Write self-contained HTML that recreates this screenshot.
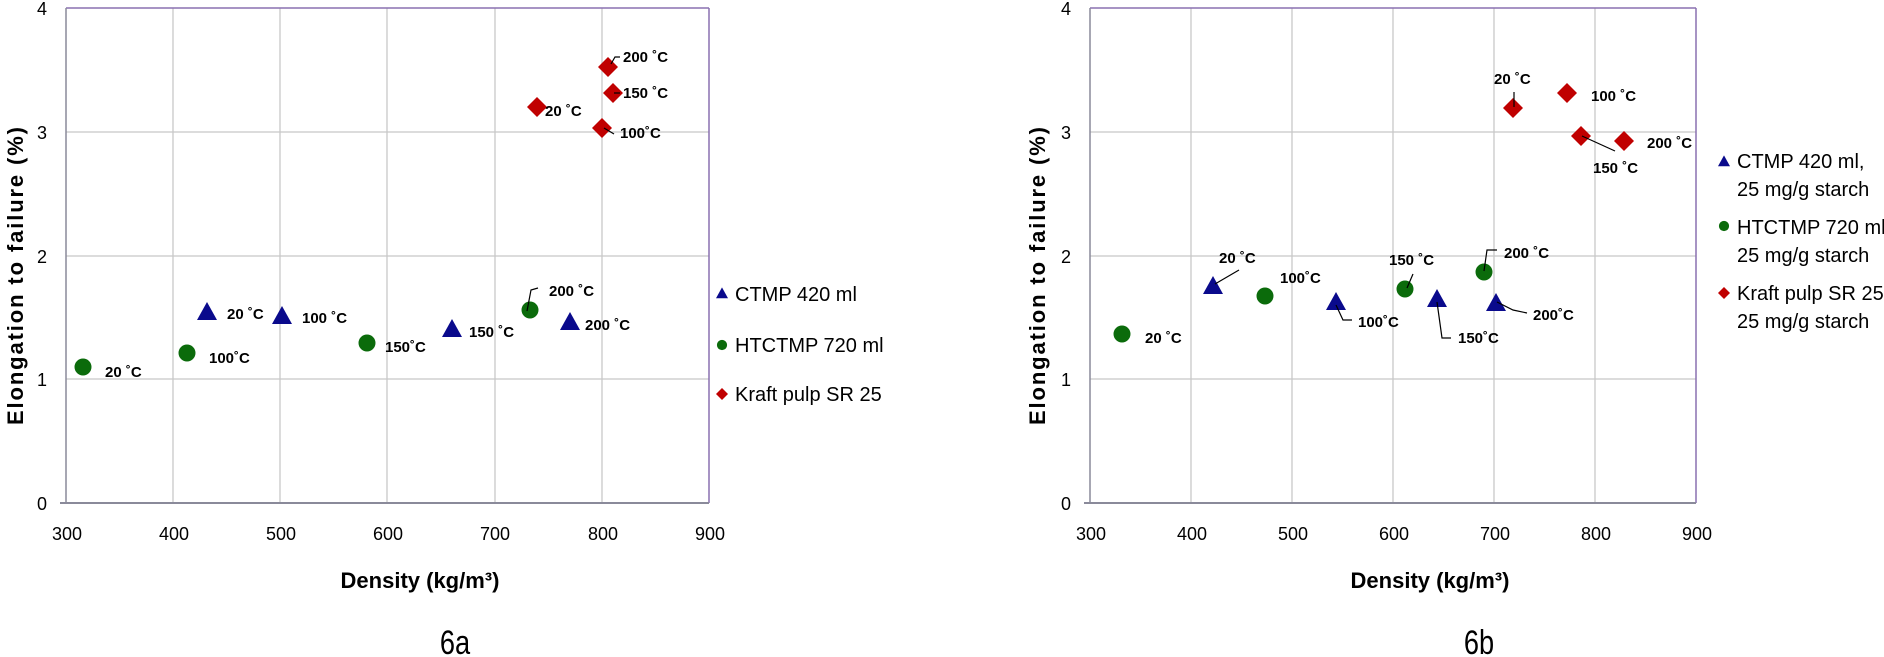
<!DOCTYPE html>
<html><head><meta charset="utf-8"><style>
html,body{margin:0;padding:0;background:#fff;}
svg{display:block;}
text{font-family:"Liberation Sans",sans-serif;}
.t{font-size:18px;fill:#000;}
.l{font-size:15px;font-weight:bold;fill:#000;}
.lg{font-size:20px;fill:#000;}
.ti{font-size:22px;font-weight:bold;fill:#000;}
</style></head><body>
<svg width="1884" height="657" viewBox="0 0 1884 657" xmlns="http://www.w3.org/2000/svg">
<defs>
<path id="tri" d="M0,-11 L10,7 L-10,7Z" fill="#0a0a8c"/>
<path id="dia" d="M0,-10 L10,0 L0,10 L-10,0Z" fill="#c00000"/>
<circle id="cir" r="8.5" fill="#0b6b0b"/>
</defs>
<!-- LEFT CHART -->
<g stroke="#c8c8c8" stroke-width="1.3">
<line x1="173" y1="8" x2="173" y2="503"/><line x1="280" y1="8" x2="280" y2="503"/><line x1="387" y1="8" x2="387" y2="503"/><line x1="495" y1="8" x2="495" y2="503"/><line x1="602" y1="8" x2="602" y2="503"/>
<line x1="66" y1="132" x2="709" y2="132"/><line x1="66" y1="256" x2="709" y2="256"/><line x1="66" y1="379" x2="709" y2="379"/>
</g>
<line x1="66" y1="8" x2="709" y2="8" stroke="#8a70b0" stroke-width="1.5"/>
<line x1="709" y1="8" x2="709" y2="503" stroke="#8a70b0" stroke-width="1.5"/>
<line x1="66" y1="8" x2="66" y2="503" stroke="#8a8a9a" stroke-width="1.5"/>
<line x1="60" y1="503" x2="709" y2="503" stroke="#8a8a9a" stroke-width="2"/>
<g class="t" text-anchor="end"><text x="47" y="15">4</text><text x="47" y="139">3</text><text x="47" y="263">2</text><text x="47" y="386">1</text><text x="47" y="510">0</text></g>
<g class="t" text-anchor="middle"><text x="67" y="540">300</text><text x="174" y="540">400</text><text x="281" y="540">500</text><text x="388" y="540">600</text><text x="495" y="540">700</text><text x="603" y="540">800</text><text x="710" y="540">900</text></g>
<text class="ti" x="420" y="588" text-anchor="middle">Density (kg/m³)</text>
<text class="ti" transform="translate(23,276) rotate(-90)" text-anchor="middle" textLength="298">Elongation  to failure (%)</text>
<text x="455" y="654" text-anchor="middle" font-size="34" transform="translate(455,0) scale(0.8,1) translate(-455,0)">6a</text>
<use href="#cir" x="83" y="367"/><use href="#cir" x="187" y="353"/><use href="#cir" x="367" y="343"/><use href="#cir" x="530" y="310"/>
<use href="#tri" x="207" y="313"/><use href="#tri" x="282" y="317"/><use href="#tri" x="452" y="330"/><use href="#tri" x="570" y="323"/>
<use href="#dia" x="537" y="107"/><use href="#dia" x="608" y="67"/><use href="#dia" x="613" y="93"/><use href="#dia" x="602" y="128"/>
<g stroke="#000" stroke-width="1.2" fill="none">
<polyline points="527,311 531,290 538,288"/><polyline points="611,64 615,57 620,57"/><polyline points="614,93 620,93"/><polyline points="604,128 614,134"/>
</g>
<g class="l">
<text x="105" y="377">20 ˚C</text><text x="209" y="363">100˚C</text><text x="385" y="352">150˚C</text><text x="549" y="296">200 ˚C</text>
<text x="227" y="319">20 ˚C</text><text x="302" y="323">100 ˚C</text><text x="469" y="337">150 ˚C</text><text x="585" y="330">200 ˚C</text>
<text x="545" y="116">20 ˚C</text><text x="623" y="62">200 ˚C</text><text x="623" y="98">150 ˚C</text><text x="620" y="138">100˚C</text>
</g>
<g transform="translate(722,294) scale(0.6)"><use href="#tri"/></g>
<g transform="translate(722,345) scale(0.6)"><use href="#cir"/></g>
<g transform="translate(722,394) scale(0.6)"><use href="#dia"/></g>
<g class="lg"><text x="735" y="301">CTMP 420 ml</text><text x="735" y="352">HTCTMP 720 ml</text><text x="735" y="401">Kraft pulp SR 25</text></g>

<!-- RIGHT CHART -->
<g stroke="#c8c8c8" stroke-width="1.3">
<line x1="1191" y1="8" x2="1191" y2="503"/><line x1="1292" y1="8" x2="1292" y2="503"/><line x1="1393" y1="8" x2="1393" y2="503"/><line x1="1494" y1="8" x2="1494" y2="503"/><line x1="1595" y1="8" x2="1595" y2="503"/>
<line x1="1090" y1="132" x2="1696" y2="132"/><line x1="1090" y1="256" x2="1696" y2="256"/><line x1="1090" y1="379" x2="1696" y2="379"/>
</g>
<line x1="1090" y1="8" x2="1696" y2="8" stroke="#8a70b0" stroke-width="1.5"/>
<line x1="1696" y1="8" x2="1696" y2="503" stroke="#8a70b0" stroke-width="1.5"/>
<line x1="1090" y1="8" x2="1090" y2="503" stroke="#8a8a9a" stroke-width="1.5"/>
<line x1="1084" y1="503" x2="1696" y2="503" stroke="#8a8a9a" stroke-width="2"/>
<g class="t" text-anchor="end"><text x="1071" y="15">4</text><text x="1071" y="139">3</text><text x="1071" y="263">2</text><text x="1071" y="386">1</text><text x="1071" y="510">0</text></g>
<g class="t" text-anchor="middle"><text x="1091" y="540">300</text><text x="1192" y="540">400</text><text x="1293" y="540">500</text><text x="1394" y="540">600</text><text x="1495" y="540">700</text><text x="1596" y="540">800</text><text x="1697" y="540">900</text></g>
<text class="ti" x="1430" y="588" text-anchor="middle">Density (kg/m³)</text>
<text class="ti" transform="translate(1045,276) rotate(-90)" text-anchor="middle" textLength="298">Elongation  to failure (%)</text>
<text x="1479" y="654" text-anchor="middle" font-size="34" transform="translate(1479,0) scale(0.8,1) translate(-1479,0)">6b</text>
<use href="#cir" x="1122" y="334"/><use href="#cir" x="1265" y="296"/><use href="#cir" x="1405" y="289"/><use href="#cir" x="1484" y="272"/>
<use href="#tri" x="1213" y="287"/><use href="#tri" x="1336" y="303"/><use href="#tri" x="1437" y="300"/><use href="#tri" x="1496" y="304"/>
<use href="#dia" x="1513" y="108"/><use href="#dia" x="1567" y="93"/><use href="#dia" x="1581" y="136"/><use href="#dia" x="1624" y="141"/>
<g stroke="#000" stroke-width="1.2" fill="none">
<polyline points="1215,284 1239,270"/><polyline points="1336,305 1343,320 1352,320"/><polyline points="1437,302 1442,338 1451,338"/><polyline points="1497,302 1513,310 1527,313"/>
<polyline points="1407,288 1413,274"/><polyline points="1484,271 1487,250 1497,250"/>
<polyline points="1514,92 1514,107"/><polyline points="1582,136 1615,151"/>
</g>
<g class="l">
<text x="1145" y="343">20 ˚C</text><text x="1280" y="283">100˚C</text><text x="1389" y="265">150 ˚C</text><text x="1504" y="258">200 ˚C</text>
<text x="1219" y="263">20 ˚C</text><text x="1358" y="327">100˚C</text><text x="1458" y="343">150˚C</text><text x="1533" y="320">200˚C</text>
<text x="1494" y="84">20 ˚C</text><text x="1591" y="101">100 ˚C</text><text x="1593" y="173">150 ˚C</text><text x="1647" y="148">200 ˚C</text>
</g>
<g transform="translate(1724,162) scale(0.6)"><use href="#tri"/></g>
<g transform="translate(1724,226) scale(0.6)"><use href="#cir"/></g>
<g transform="translate(1724,293) scale(0.6)"><use href="#dia"/></g>
<g class="lg"><text x="1737" y="168">CTMP 420 ml,</text><text x="1737" y="196">25 mg/g starch</text>
<text x="1737" y="234">HTCTMP 720 ml</text><text x="1737" y="262">25 mg/g starch</text>
<text x="1737" y="300">Kraft pulp SR 25</text><text x="1737" y="328">25 mg/g starch</text></g>
</svg>
</body></html>
